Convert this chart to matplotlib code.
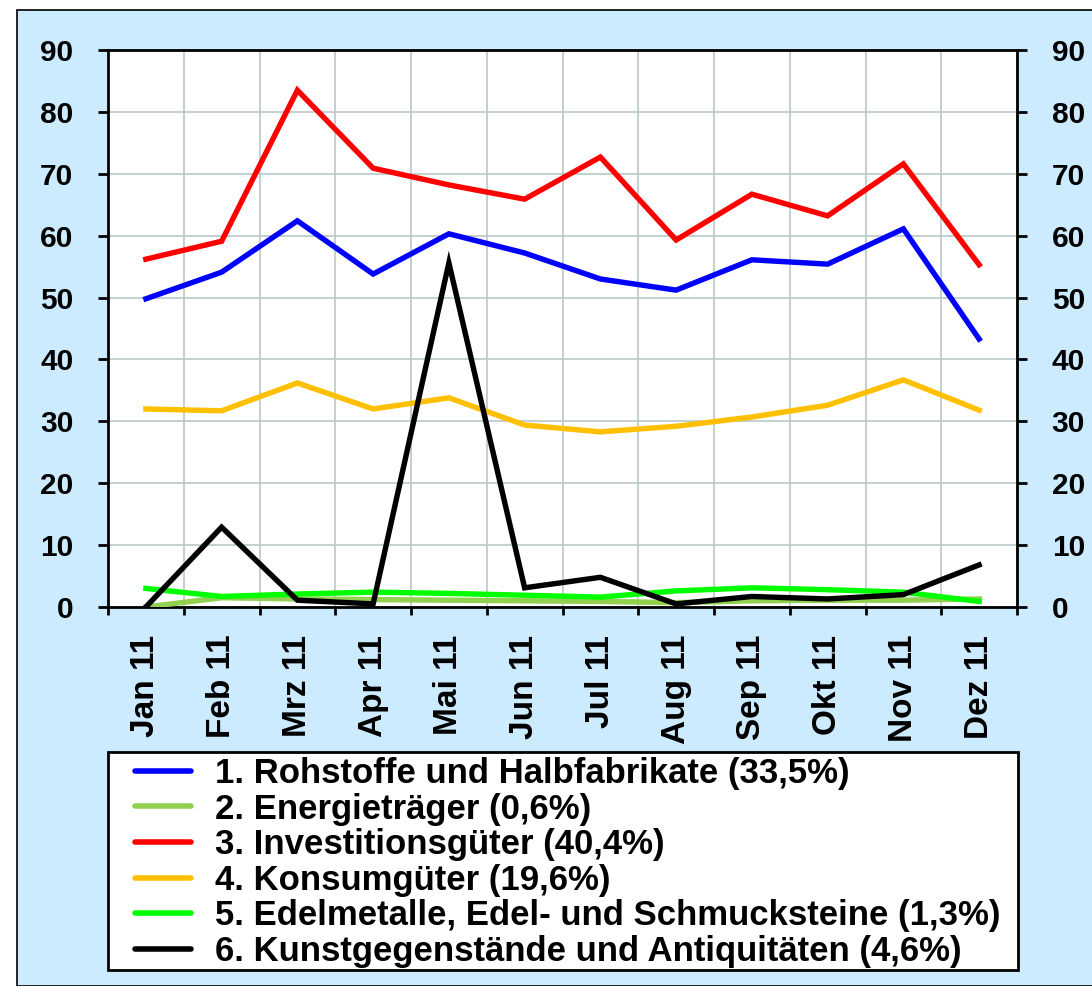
import matplotlib
matplotlib.use("Agg")
import matplotlib.pyplot as plt
from matplotlib.patches import Rectangle
import numpy as np

# Monthly values, 2011
months = ["Jan 11", "Feb 11", "Mrz 11", "Apr 11", "Mai 11", "Jun 11",
          "Jul 11", "Aug 11", "Sep 11", "Okt 11", "Nov 11", "Dez 11"]

rohstoffe = [49.8, 54.1, 62.4, 53.8, 60.3, 57.2, 53.0, 51.2, 56.1, 55.4, 61.1, 43.3]
energie = [0.0, 1.5, 1.3, 1.2, 1.1, 1.0, 0.9, 0.7, 1.0, 1.1, 1.1, 1.3]
investition = [56.2, 59.1, 83.5, 70.9, 68.2, 65.9, 72.7, 59.3, 66.7, 63.2, 71.6, 55.3]
konsum = [32.0, 31.7, 36.2, 32.0, 33.8, 29.4, 28.3, 29.2, 30.7, 32.6, 36.7, 31.8]
edelmetalle = [3.0, 1.7, 2.1, 2.4, 2.2, 1.9, 1.6, 2.6, 3.1, 2.8, 2.4, 0.9]
kunst = [0.0, 12.9, 1.1, 0.5, 55.6, 3.1, 4.8, 0.5, 1.7, 1.3, 2.0, 6.8]

labels = ["1. Rohstoffe und Halbfabrikate (33,5%)",
          "2. Energieträger (0,6%)",
          "3. Investitionsgüter (40,4%)",
          "4. Konsumgüter (19,6%)",
          "5. Edelmetalle, Edel- und Schmucksteine (1,3%)",
          "6. Kunstgegenstände und Antiquitäten (4,6%)"]
colors = ["#0000FF", "#92D050", "#FF0000", "#FFC000", "#00FF00", "#000000"]
series = [rohstoffe, energie, investition, konsum, edelmetalle, kunst]

plt.rcParams["font.family"] = ["Liberation Sans", "DejaVu Sans"]
plt.rcParams["font.weight"] = "bold"

W, H = 1092, 986
fig = plt.figure(figsize=(W / 100, H / 100), dpi=100)
fig.patch.set_facecolor("white")
# light blue panel with border
fig.patches.append(Rectangle((17 / W, 0), 1.1, 1 - 10 / H, transform=fig.transFigure,
                             facecolor="#CCEBFF", edgecolor="black", linewidth=1.2, zorder=-5))

ax = fig.add_axes([108 / W, 1 - 607 / H, 909 / W, 557 / H])
ax.set_zorder(2)
ax.set_facecolor("white")
x = np.arange(len(months))

# draw order so black ends on top
for idx in [1, 4, 3, 0, 2, 5]:
    ax.plot(x, series[idx], color=colors[idx], lw=3.9, solid_joinstyle="miter", zorder=3)

ax.set_xlim(-0.5, 11.5)
ax.set_ylim(0, 90)
ax.set_yticks(range(0, 91, 10))
ax.set_xticks(x)
ax.set_xticklabels(months, rotation=90, fontsize=24, fontweight="bold")
ax.set_xticks(np.arange(-0.5, 12, 1), minor=True)
ax.tick_params(axis="x", which="major", length=0, pad=20)
ax.tick_params(axis="x", which="minor", length=6, width=2, direction="out")
ax.tick_params(axis="y", length=7, width=2, direction="out", labelsize=21.5, pad=18,
               right=True, labelright=True)
for lbl in ax.yaxis.get_ticklabels(which="both"):
    lbl.set_fontweight("bold")
ax.grid(True, which="minor", axis="x", color="#B8C8C8", lw=1.2)
ax.grid(True, which="major", axis="y", color="#B8C8C8", lw=1.2)
for s in ax.spines.values():
    s.set_linewidth(2)

# legend box and entries
fig.patches.append(Rectangle((108 / W, 1 - 970 / H), 910 / W, 218 / H, transform=fig.transFigure,
                             facecolor="white", edgecolor="black", linewidth=2, zorder=1))
handles = [plt.Line2D([], [], color=c, lw=4, solid_capstyle="round") for c in colors]
leg = fig.legend(handles, labels, loc="upper left",
                 bbox_to_anchor=(135 / W, 1 - 757 / H),
                 prop={"weight": "bold", "size": 25},
                 frameon=False, handlelength=1.6, handletextpad=0.7,
                 labelspacing=0.075, borderaxespad=0, borderpad=0)
leg.set_zorder(3)

fig.savefig("out.png", dpi=100)
